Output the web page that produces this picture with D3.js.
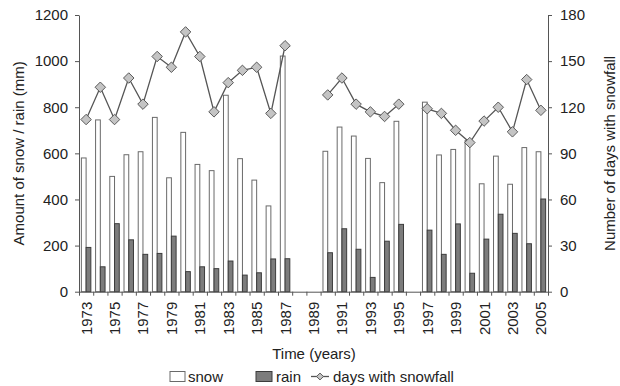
<!DOCTYPE html>
<html><head><meta charset="utf-8">
<script src="https://cdn.jsdelivr.net/npm/d3@7"></script>
<style>
body{margin:0;background:#fff;}
svg{display:block;font-family:"Liberation Sans",Arial,sans-serif;}
</style></head>
<body>
<svg id="c" width="620" height="386"></svg>
<script>
const years = d3.range(1973, 2006);
const snow = [580,745,500,594,607,756,494,691,552,525,852,577,484,372,1022,null,null,609,714,675,578,473,739,null,822,593,617,655,468,588,466,625,607];
const rain = [192,108,295,225,162,166,241,87,108,100,133,72,82,142,143,null,null,169,273,184,62,219,292,null,267,162,294,80,228,336,253,208,402];
const days = [112,133,112,139,122,153,146,169,153,117,136,144,146,116,160,null,null,128,139,122,117,114,122,null,119,116,105,97,111,120,104,138,118];
const leftTicks = [0,200,400,600,800,1000,1200];
const rightTicks = [0,30,60,90,120,150,180];
const labelYears = years.filter(y => (y - 1973) % 2 === 0);

const svg = d3.select("#c");
const L = 79, R = 548, T = 15, B = 291.7;
const axisColor = "#555", textColor = "#222";

const x = d3.scaleBand().domain(years).range([L, R]).paddingInner(0).paddingOuter(0);
const xs = d3.scaleBand().domain(["snow","rain"]).range([0, x.bandwidth()]).paddingOuter(0.5).paddingInner(0);
const xl = d3.scaleLinear().domain([1972.5, 2005.5]).range([L, R]);
const y = d3.scaleLinear().domain([0, 1200]).range([B, T]);
const y2 = d3.scaleLinear().domain([0, 180]).range([B, T]);

const data = years.map((yr, i) => ({yr, snow: snow[i], rain: rain[i], days: days[i]}));

// bars
svg.append("g").selectAll("rect.snow").data(data.filter(d => d.snow != null)).join("rect")
  .attr("x", d => x(d.yr) + xs("snow")).attr("width", xs.bandwidth())
  .attr("y", d => y(d.snow)).attr("height", d => y(0) - y(d.snow))
  .attr("fill", "#fff").attr("stroke", "#6a6a6a").attr("stroke-width", 1);
svg.append("g").selectAll("rect.rain").data(data.filter(d => d.rain != null)).join("rect")
  .attr("x", d => x(d.yr) + xs("rain")).attr("width", xs.bandwidth())
  .attr("y", d => y(d.rain)).attr("height", d => y(0) - y(d.rain))
  .attr("fill", "#7c7c7c").attr("stroke", "#3c3c3c").attr("stroke-width", 1);

// line
const line = d3.line().defined(d => d.days != null)
  .x(d => x(d.yr) + x.bandwidth()/2).y(d => y2(d.days));
svg.append("path").datum(data).attr("d", line)
  .attr("fill", "none").attr("stroke", "#555").attr("stroke-width", 1.3);
const diamond = d3.symbol().type(d3.symbolDiamond2).size(70);
svg.append("g").selectAll("path").data(data.filter(d => d.days != null)).join("path")
  .attr("d", diamond)
  .attr("transform", d => `translate(${x(d.yr) + x.bandwidth()/2},${y2(d.days)})`)
  .attr("fill", "#c4c4c4").attr("stroke", "#5a5a5a").attr("stroke-width", 1);

// axes
function styleAxis(g){
  g.selectAll("path,line").attr("stroke", axisColor);
  g.selectAll("text").attr("fill", textColor).style("font-size", "15px");
}
svg.append("g").attr("transform", `translate(${L},0)`)
  .call(d3.axisLeft(y).tickValues(leftTicks).tickFormat(d3.format("d")).tickSize(4).tickSizeOuter(0).tickPadding(7))
  .call(styleAxis);
svg.append("g").attr("transform", `translate(${R},0)`)
  .call(d3.axisRight(y2).tickValues(rightTicks).tickFormat(d3.format("d")).tickSize(4).tickSizeOuter(0).tickPadding(8))
  .call(styleAxis);
svg.append("g").attr("transform", `translate(0,${B})`)
  .call(d3.axisBottom(xl).tickValues(d3.range(1972.5, 2006, 1)).tickSize(4).tickSizeOuter(0).tickFormat(""))
  .call(styleAxis);
svg.append("g").selectAll("text").data(labelYears).join("text")
  .attr("transform", d => `translate(${x(d) + x.bandwidth()/2 + 5.5},${B + 10}) rotate(-90)`)
  .attr("text-anchor", "end").attr("fill", textColor).style("font-size", "15px")
  .text(d => d);

// titles
svg.append("text").attr("transform", `translate(24,${(T+B)/2}) rotate(-90)`)
  .attr("text-anchor", "middle").attr("fill", textColor).style("font-size", "15px")
  .text("Amount of snow / rain (mm)");
svg.append("text").attr("transform", `translate(615,${(T+B)/2}) rotate(-90)`)
  .attr("text-anchor", "middle").attr("fill", textColor).style("font-size", "15px")
  .text("Number of days with snowfall");
svg.append("text").attr("x", 314).attr("y", 359)
  .attr("text-anchor", "middle").attr("fill", textColor).style("font-size", "15px")
  .text("Time (years)");

// legend
const lg = svg.append("g");
lg.append("rect").attr("x", 170).attr("y", 371.5).attr("width", 15).attr("height", 10)
  .attr("fill", "#fff").attr("stroke", "#6a6a6a");
lg.append("text").attr("x", 188).attr("y", 381.5).attr("fill", textColor).style("font-size", "15px").text("snow");
lg.append("rect").attr("x", 256).attr("y", 371.5).attr("width", 16).attr("height", 10)
  .attr("fill", "#7c7c7c").attr("stroke", "#3c3c3c");
lg.append("text").attr("x", 276).attr("y", 381.5).attr("fill", textColor).style("font-size", "15px").text("rain");
lg.append("line").attr("x1", 311).attr("x2", 329).attr("y1", 376.5).attr("y2", 376.5)
  .attr("stroke", "#555").attr("stroke-width", 1.3);
lg.append("path").attr("d", d3.symbol().type(d3.symbolDiamond2).size(30))
  .attr("transform", "translate(320,376.5)")
  .attr("fill", "#c4c4c4").attr("stroke", "#5a5a5a");
lg.append("text").attr("x", 333).attr("y", 381.5).attr("fill", textColor).style("font-size", "15px").text("days with snowfall");
</script>
</body></html>
